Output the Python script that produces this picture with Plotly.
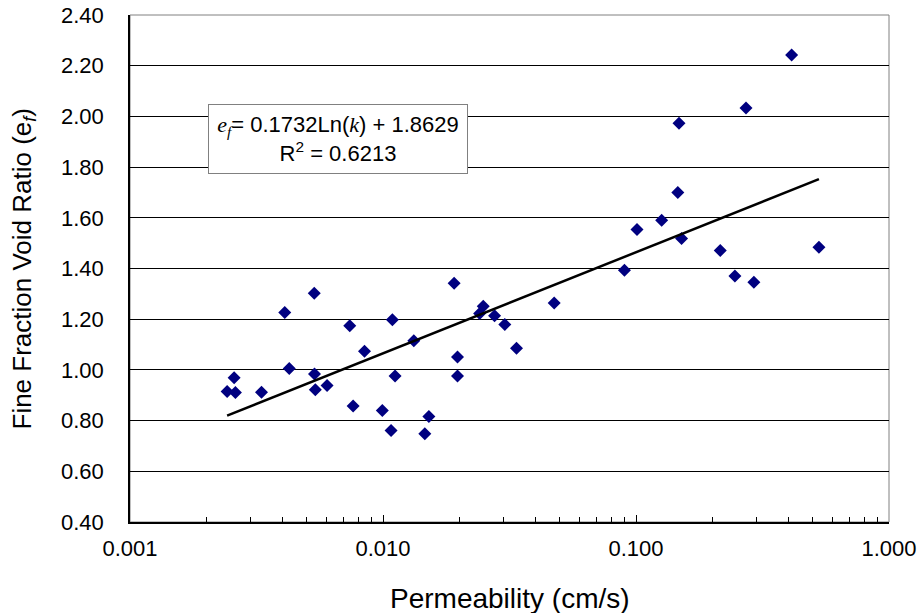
import math
import plotly.graph_objects as go

# Data
permeability = [0.00242, 0.00258, 0.00261, 0.00331, 0.00409, 0.00426, 0.00535, 0.00536,
                0.00540, 0.00601, 0.00739, 0.00762, 0.00845, 0.00994, 0.01076, 0.01089,
                0.01116, 0.01324, 0.01463, 0.01518, 0.0191, 0.0197, 0.0197, 0.0241,
                0.0249, 0.0276, 0.0303, 0.0337, 0.0475, 0.0900, 0.1009, 0.1263,
                0.1463, 0.1479, 0.1514, 0.2153, 0.2460, 0.2722, 0.2924, 0.4121, 0.5285]
void_ratio = [0.915, 0.969, 0.911, 0.912, 1.226, 1.006, 1.302, 0.984,
              0.922, 0.938, 1.174, 0.858, 1.074, 0.840, 0.761, 1.198,
              0.976, 1.115, 0.748, 0.816, 1.342, 1.051, 0.976, 1.222,
              1.251, 1.214, 1.179, 1.085, 1.264, 1.393, 1.554, 1.590,
              1.700, 1.973, 1.518, 1.471, 1.370, 2.033, 1.346, 2.242, 1.484]

# Logarithmic trend line shown on the chart: ef = a*ln(k) + b
trend_a = 0.1732
trend_b = 1.8629
r_squared = 0.6213

x_tickvals = [0.001, 0.01, 0.1, 1.0]
x_ticktext = ["0.001", "0.010", "0.100", "1.000"]
x_minor_ticks = [m * 10 ** e for e in (-3, -2, -1) for m in range(2, 10)]

x_title = "Permeability (cm/s)"
y_title = "Fine Fraction Void Ratio (e<sub><i>f</i></sub>)"

FONT = "Liberation Sans, Arial, sans-serif"
SERIF_I = "<span style=\"font-family:Liberation Serif;font-style:italic\">{}</span>"

trend_x = [min(permeability), max(permeability)]
trend_y = [trend_a * math.log(v) + trend_b for v in trend_x]

fig = go.Figure()
fig.add_trace(go.Scatter(
    x=permeability, y=void_ratio, mode="markers",
    marker=dict(symbol="diamond", size=10, color="#000080", line=dict(width=0)),
    showlegend=False, hoverinfo="x+y"))
fig.add_trace(go.Scatter(
    x=trend_x, y=trend_y, mode="lines",
    line=dict(color="black", width=2.5), showlegend=False, hoverinfo="skip"))

eq_text = (SERIF_I.format("e<sub>f</sub>") + "= " + f"{trend_a:.4f}" + "Ln("
           + SERIF_I.format("k") + ") + " + f"{trend_b:.4f}"
           + "<br>R<sup>2</sup> = " + f"{r_squared:.4f}")

fig.update_layout(
    width=922, height=613,
    margin=dict(l=130, r=33, t=15, b=91),
    paper_bgcolor="white", plot_bgcolor="white",
    font=dict(family=FONT, color="black", size=22),
    xaxis=dict(
        type="log", range=[-3, 0], automargin=False,
        tickmode="array", tickvals=x_tickvals, ticktext=x_ticktext,
        ticks="inside", ticklen=7, tickcolor="black", tickwidth=1,
        minor=dict(tickmode="array", tickvals=x_minor_ticks, ticks="inside",
                   ticklen=5, tickcolor="black", tickwidth=1, showgrid=False),
        showgrid=False, zeroline=False,
        showline=True, linecolor="black", linewidth=1.5,
        tickfont=dict(size=22), ticklabelstandoff=6,
    ),
    yaxis=dict(
        range=[0.4, 2.4], dtick=0.2, tick0=0.4, tickformat=".2f", automargin=False,
        ticks="", showgrid=True, gridcolor="black", gridwidth=1,
        zeroline=False, showline=True, linecolor="black", linewidth=1.5,
        tickfont=dict(size=22), ticklabelstandoff=20,
    ),
    shapes=[dict(type="rect", xref="paper", yref="paper", x0=0, x1=1, y0=0, y1=1,
                 line=dict(color="#808080", width=1), layer="below")],
    annotations=[
        dict(xref="paper", yref="paper", x=0.5, y=0, yshift=-76,
             xanchor="center", yanchor="middle", showarrow=False,
             text=x_title, font=dict(size=28, family=FONT, color="black")),
        dict(xref="paper", yref="paper", x=0, y=0.5, xshift=-107,
             xanchor="center", yanchor="middle", showarrow=False, textangle=-90,
             text=y_title, font=dict(size=26, family=FONT, color="black")),
        dict(xref="paper", yref="paper", x=(208 - 130) / 759, y=(522 - 104) / 507,
             xanchor="left", yanchor="top", showarrow=False, align="center",
             text=eq_text, font=dict(size=22, family=FONT, color="black"),
             bgcolor="white", bordercolor="#808080", borderwidth=1, borderpad=1,
             width=256, height=66),
    ],
)

fig.write_html("out.html",
               config={"displayModeBar": False},
               post_script="document.body.style.margin='0';document.body.style.overflow='hidden';")
